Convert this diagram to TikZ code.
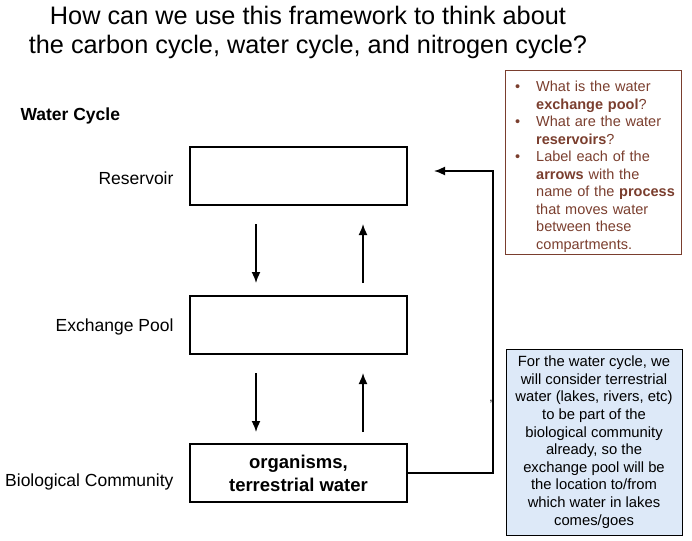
\documentclass[tikz,border=0pt]{standalone}
\usepackage{fontspec}
\setmainfont{Liberation Sans}
\usetikzlibrary{arrows.meta}
\definecolor{noteblue}{HTML}{DDE9F8}
\definecolor{qbrown}{HTML}{7A3E2E}
\begin{document}
\begin{tikzpicture}[x=1pt,y=-1pt,
  box/.style={draw,line width=1.6pt,minimum width=217pt,minimum height=58pt,inner sep=0pt},
  lab/.style={anchor=east,font=\fontsize{17.5}{20}\selectfont},
  arr/.style={-{Latex[length=11pt,width=9pt]},line width=1.6pt},
  note/.style={font=\fontsize{14.5}{17.5}\selectfont,inner sep=0pt}]
\useasboundingbox (0,0) rectangle (692,540);
\node[font=\fontsize{25.3}{29}\selectfont,align=center] (title) at (308,32) {How can we use this framework to think about\\the carbon cycle, water cycle, and nitrogen cycle?};
\node[anchor=west,font=\bfseries\fontsize{17.5}{20}\selectfont] (wc) at (17,116) {Water Cycle};
\node[box] (res) at (298.5,176) {};
\node[box] (ex) at (298.5,325) {};
\node[box,align=center,font=\bfseries\fontsize{18.5}{23}\selectfont] (bio) at (298.5,473) {organisms,\\terrestrial water};
\node[lab] (lres) at (177,178) {Reservoir};
\node[lab] (lex) at (177,327) {Exchange Pool};
\node[lab] (lbio) at (177,482) {Biological Community};
\coordinate (a1) at (256,224); \coordinate (a2) at (256,283);
\coordinate (b1) at (363,283); \coordinate (b2) at (363,224);
\coordinate (c1) at (256,373); \coordinate (c2) at (256,432);
\coordinate (d1) at (363,432); \coordinate (d2) at (363,373);
\draw[arr] (a1) -- (a2);
\draw[arr] (b1) -- (b2);
\draw[arr] (c1) -- (c2);
\draw[arr] (d1) -- (d2);
\coordinate (fb) at (434,171);
\draw[arr] (bio.east) -- (493,473) -- (493,171) -- (fb);
\node[font=\fontsize{12}{12}\selectfont] (cm) at (491,402) {,};
\node[draw=qbrown,line width=0.6pt,minimum width=176pt,minimum height=184pt,inner sep=0pt] (q) at (593,162) {};
\node[note,anchor=north west,text width=165pt,color=qbrown] (qt) at (510,74) {
\begin{list}{\textbullet}{\leftmargin=26pt\labelwidth=10pt\labelsep=16pt\itemsep=0pt\parsep=0pt\topsep=0pt\rightmargin=0pt}
\item What is the water \textbf{exchange pool}?
\item What are the water \textbf{reservoirs}?
\item Label each of the \textbf{arrows} with the name of the \textbf{process} that moves water between these compartments.
\end{list}};
\node[draw,fill=noteblue,line width=0.6pt,minimum width=176pt,minimum height=186pt,inner sep=0pt,align=center,font=\fontsize{14.8}{17.6}\selectfont] (n) at (594,442) {For the water cycle, we\\will consider terrestrial\\water (lakes, rivers, etc)\\to be part of the\\biological community\\already, so the\\exchange pool will be\\the location to/from\\which water in lakes\\comes/goes};
\end{tikzpicture}
\end{document}
